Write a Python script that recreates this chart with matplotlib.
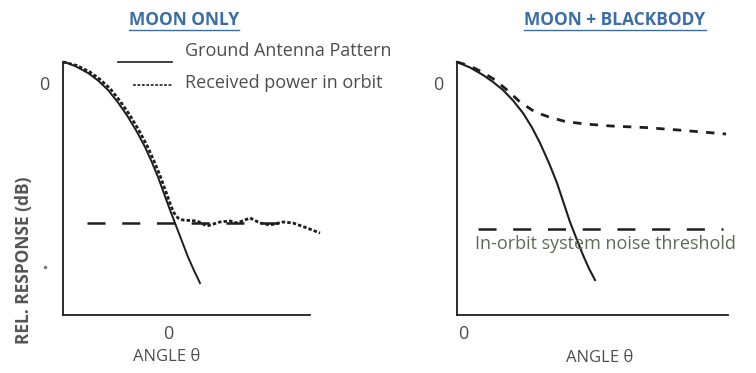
import numpy as np
import matplotlib.pyplot as plt
import matplotlib.transforms as mtransforms
from matplotlib.lines import Line2D

plt.rcParams['font.family'] = ['Open Sans', 'DejaVu Sans']
plt.rcParams['lines.scale_dashes'] = False

# ---- data (schematic, angle units arbitrary, response in dB) ----
# left panel: moon only
moon_ant_x = [-4.12, -3.68, -3.2, -2.8, -2.4, -2.0, -1.6, -1.24, -0.92, -0.64, -0.4, -0.16, 0.08, 0.44, 0.8, 1.04, 1.28]
moon_ant_y = [0.0, -0.53, -1.30, -2.19, -3.32, -4.80, -6.52, -8.30, -10.08, -11.92, -13.64, -15.59, -17.55, -20.34,
              -23.12, -24.72, -26.21]

moon_rx_x = [-4.2, -3.64, -3.12, -2.72, -2.32, -1.92, -1.52, -1.16, -0.84, -0.56, -0.32, -0.08, 0.12, 0.24, 0.4, 0.6,
             1.16, 1.56, 2.08, 2.48, 2.76, 3.28, 3.68, 4.08, 4.6, 5.0, 5.56, 6.08]
moon_rx_y = [0.0, -0.42, -1.19, -2.07, -3.14, -4.62, -6.34, -8.12, -9.90, -11.74, -13.46, -15.42, -17.08, -17.90, -18.5,
             -18.74, -18.85, -19.45, -18.97, -18.85, -19.09, -18.5, -19.09, -19.33, -18.97, -19.09, -19.68, -20.28]

moon_noise_x = [-3.24, 4.88]
moon_noise_y = [-19.09, -19.09]

# right panel: moon + blackbody
bb_ant_x = [-0.24, 0.28, 0.8, 1.2, 1.6, 2.0, 2.4, 2.76, 3.08, 3.44, 3.76, 4.04, 4.28, 4.56, 4.8, 5.04, 5.28]
bb_ant_y = [0.0, -0.65, -1.54, -2.37, -3.32, -4.56, -6.05, -7.77, -9.60, -11.98, -14.35, -16.84, -18.97, -21.11,
            -22.89, -24.49, -25.85]

bb_rx_x = [-0.24, 0.28, 0.8, 1.28, 1.76, 2.28, 2.88, 3.44, 4.08, 4.88, 5.92, 7.28, 8.6, 10.52]
bb_rx_y = [0.0, -0.47, -1.25, -2.13, -3.32, -4.74, -5.93, -6.52, -7.05, -7.35, -7.59, -7.77, -8.06, -8.54]

bb_noise_x = [0.6, 10.4]
bb_noise_y = [-19.8, -19.8]

W, H = 756, 373
fig = plt.figure(figsize=(W / 100, H / 100), dpi=100)


def fx(px):
    return px / W


def fy(py):
    return 1 - py / H


ink = '#1e1e1e'
gray = '#4d4d4d'
blue = '#3b6ea5'


def make_axes(x0, x1, xlim):
    ax = fig.add_axes([fx(x0), fy(315), fx(x1) - fx(x0), fy(62) - fy(315)])
    ax.set_xlim(*xlim)
    ax.set_ylim(-30, 0)
    for s in ['top', 'right']:
        ax.spines[s].set_visible(False)
    for s in ['left', 'bottom']:
        ax.spines[s].set_linewidth(1.3)
        ax.spines[s].set_color(ink)
    ax.set_xticks([0])
    ax.set_xticklabels(['0'])
    ax.set_yticks([0])
    ax.set_yticklabels(['0'])
    ax.tick_params(length=0, labelsize=13, labelcolor=gray)
    ax.tick_params(axis='x', pad=7)
    ax.tick_params(axis='y', pad=10)
    off = mtransforms.ScaledTranslation(0, -0.21, fig.dpi_scale_trans)
    for lab in ax.get_yticklabels():
        lab.set_transform(lab.get_transform() + off)
    return ax


ax1 = make_axes(63, 310, (-4.2, 5.68))
ax2 = make_axes(457, 728, (-0.24, 10.6))

# left
ax1.plot(moon_ant_x, moon_ant_y, color=ink, lw=1.4, clip_on=False)
ax1.plot(moon_rx_x, moon_rx_y, color=ink, lw=2.0, dashes=(2.5, 1.5), clip_on=False)
ax1.plot(moon_noise_x, moon_noise_y, color=ink, lw=1.8, dashes=(13, 12), clip_on=False)

# right
ax2.plot(bb_ant_x, bb_ant_y, color=ink, lw=1.5, clip_on=False)
ax2.plot(bb_rx_x, bb_rx_y, color=ink, lw=2.0, dashes=(6, 6), clip_on=False)
ax2.plot(bb_noise_x, bb_noise_y, color=ink, lw=1.8, dashes=(13, 12), clip_on=False)

# titles (underlined)
t1 = fig.text(fx(184), fy(20), 'MOON ONLY', ha='center', va='center',
              fontsize=12.5, weight='bold', color=blue)
t2 = fig.text(fx(615), fy(20), 'MOON + BLACKBODY', ha='center', va='center',
              fontsize=12.5, weight='bold', color=blue)

# legend
fig.add_artist(Line2D([fx(118), fx(172)], [fy(62), fy(62)], color=ink, lw=1.2))
fig.add_artist(Line2D([fx(133), fx(172)], [fy(85), fy(85)], color=ink, lw=1.2, dashes=(2, 1.2)))
fig.text(fx(185), fy(51), 'Ground Antenna Pattern', ha='left', va='center',
         fontsize=13, color=gray)
fig.text(fx(185), fy(83), 'Received power in orbit', ha='left', va='center',
         fontsize=13, color=gray)

fig.text(fx(475), fy(244), 'In-orbit system noise threshold', ha='left', va='center',
         fontsize=13, color='#5f6b55')

# axis labels
fig.text(fx(24), fy(260), 'REL. RESPONSE (dB)', rotation=90, ha='center', va='center',
         fontsize=12.5, weight='bold', color='#555555')
fig.text(fx(167), fy(357), 'ANGLE \u03b8', ha='center', va='center', fontsize=12, color=gray)
fig.text(fx(600), fy(358), 'ANGLE \u03b8', ha='center', va='center', fontsize=12, color=gray)

# stray dot on the left
fig.add_artist(Line2D([fx(45)], [fy(267)], marker='o', markersize=1.5, color='#777777', lw=0))

# underline the titles
fig.canvas.draw()
for t in (t1, t2):
    bb = t.get_window_extent()
    y = (bb.y0 - 1) / H
    fig.add_artist(Line2D([bb.x0 / W, bb.x1 / W], [y, y], color=blue, lw=1.0))

fig.savefig('out.png', dpi=100)
